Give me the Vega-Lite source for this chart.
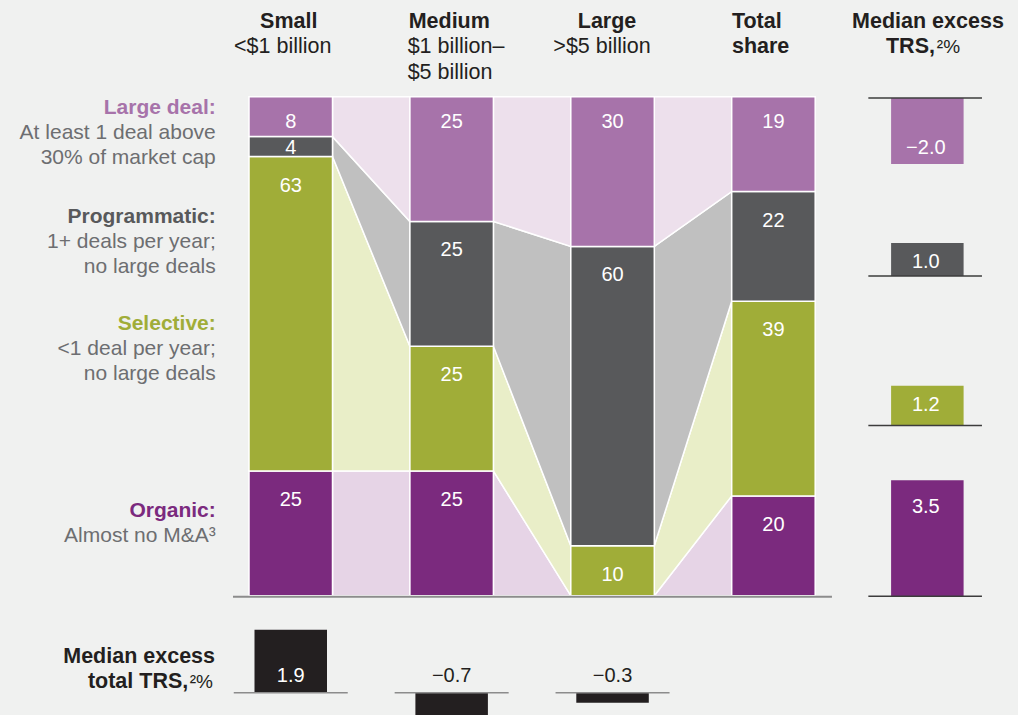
{
  "$schema": "https://vega.github.io/schema/vega-lite/v6.json",
  "width": 1018,
  "height": 715,
  "autosize": {"type": "fit", "contains": "padding"},
  "padding": 0,
  "background": "#f0f1f0",
  "config": {
    "view": {"stroke": null},
    "axis": {"disable": true},
    "legend": {"disable": true},
    "font": "Liberation Sans",
    "text": {"font": "Liberation Sans"}
  },
  "datasets": {
    "shares": [
      {"size": "Small", "type": "Organic", "share": 25},
      {"size": "Small", "type": "Selective", "share": 63},
      {"size": "Small", "type": "Programmatic", "share": 4},
      {"size": "Small", "type": "Large deal", "share": 8},
      {"size": "Medium", "type": "Organic", "share": 25},
      {"size": "Medium", "type": "Selective", "share": 25},
      {"size": "Medium", "type": "Programmatic", "share": 25},
      {"size": "Medium", "type": "Large deal", "share": 25},
      {"size": "Large", "type": "Organic", "share": 0},
      {"size": "Large", "type": "Selective", "share": 10},
      {"size": "Large", "type": "Programmatic", "share": 60},
      {"size": "Large", "type": "Large deal", "share": 30},
      {"size": "Total", "type": "Organic", "share": 20},
      {"size": "Total", "type": "Selective", "share": 39},
      {"size": "Total", "type": "Programmatic", "share": 22},
      {"size": "Total", "type": "Large deal", "share": 19}
    ],
    "trs": [
      {"type": "Large deal", "excess": -2.0},
      {"type": "Programmatic", "excess": 1.0},
      {"type": "Selective", "excess": 1.2},
      {"type": "Organic", "excess": 3.5}
    ],
    "sizeTrs": [
      {"col": "Small", "excess": 1.9},
      {"col": "Medium", "excess": -0.7},
      {"col": "Large", "excess": -0.3}
    ],
    "headers": [
      {"col": "Small", "title": "Small", "sub": ["<$1 billion"]},
      {"col": "Medium", "title": "Medium", "sub": ["$1 billion–", "$5 billion"]},
      {"col": "Large", "title": "Large", "sub": [">$5 billion"]},
      {"col": "Total", "title": ["Total", "share"], "sub": []}
    ],
    "panelTitles": [
      {"panel": "trs", "l1": "Median excess", "l2": "TRS,", "note": "²%"},
      {"panel": "size", "l1": "Median excess", "l2": "total TRS,", "note": "²%"}
    ],
    "labels": [
      {"type": "Large deal", "title": "Large deal:", "desc": ["At least 1 deal above", "30% of market cap"]},
      {"type": "Programmatic", "title": "Programmatic:", "desc": ["1+ deals per year;", "no large deals"]},
      {"type": "Selective", "title": "Selective:", "desc": ["<1 deal per year;", "no large deals"]},
      {"type": "Organic", "title": "Organic:", "desc": ["Almost no M&A³"]}
    ]
  },
  "layer": [
    {
      "data": {"name": "shares"},
      "transform": [{"stack": "share", "groupby": ["size"], "as": ["y0", "y1"]}],
      "layer": [
        {
          "transform": [{"filter": {"field": "size", "oneOf": ["Small", "Medium"]}}],
          "mark": {"type": "area", "stroke": "#ffffff", "strokeWidth": 1.5},
          "encoding": {
            "x": {"field": "size", "type": "ordinal", "sort": ["Small", "Medium"],
                  "scale": {"type": "point", "domain": ["Small", "Medium"], "range": [332.5, 409.9], "padding": 0}},
            "y": {"field": "y1", "type": "quantitative", "scale": {"domain": [0, 100], "range": [595.7, 96.7]}},
            "y2": {"field": "y0"},
            "fill": {"field": "type", "type": "nominal",
                     "scale": {"domain": ["Large deal", "Programmatic", "Selective", "Organic"], "range": ["#ede0ec", "#c0c0c0", "#e9eec8", "#e6d4e6"]},
                     "legend": null}
          }
        },
        {
          "transform": [{"filter": {"field": "size", "oneOf": ["Medium", "Large"]}}],
          "mark": {"type": "area", "stroke": "#ffffff", "strokeWidth": 1.5},
          "encoding": {
            "x": {"field": "size", "type": "ordinal", "sort": ["Medium", "Large"],
                  "scale": {"type": "point", "domain": ["Medium", "Large"], "range": [493.4, 570.8], "padding": 0}},
            "y": {"field": "y1", "type": "quantitative"},
            "y2": {"field": "y0"},
            "fill": {"field": "type", "type": "nominal", "legend": null}
          }
        },
        {
          "transform": [{"filter": {"field": "size", "oneOf": ["Large", "Total"]}}],
          "mark": {"type": "area", "stroke": "#ffffff", "strokeWidth": 1.5},
          "encoding": {
            "x": {"field": "size", "type": "ordinal", "sort": ["Large", "Total"],
                  "scale": {"type": "point", "domain": ["Large", "Total"], "range": [654.3, 731.7], "padding": 0}},
            "y": {"field": "y1", "type": "quantitative"},
            "y2": {"field": "y0"},
            "fill": {"field": "type", "type": "nominal", "legend": null}
          }
        }
      ],
      "resolve": {"scale": {"x": "independent"}}
    },
    {
      "layer": [
        {
          "layer": [
            {
              "data": {"name": "shares"},
              "transform": [{"stack": "share", "groupby": ["size"], "as": ["y0", "y1"]}],
              "layer": [
                {
                  "transform": [{"filter": "datum.share > 0"}],
                  "mark": {"type": "bar", "width": 83.5, "stroke": "#ffffff", "strokeWidth": 1.5},
                  "encoding": {
                    "x": {"field": "size", "type": "nominal",
                          "scale": {"type": "point", "domain": ["Small", "Medium", "Large", "Total", "TRS"], "range": [290.75, 934.35], "padding": 0}},
                    "y": {"field": "y1", "type": "quantitative", "scale": {"domain": [0, 100], "range": [595.7, 96.7]}},
                    "y2": {"field": "y0"},
                    "color": {"field": "type", "type": "nominal",
                              "scale": {"domain": ["Large deal", "Programmatic", "Selective", "Organic"], "range": ["#a773aa", "#58595b", "#a0ad38", "#7b2a7e"]},
                              "legend": null}
                  }
                },
                {
                  "transform": [{"filter": "datum.type === 'Large deal'"}],
                  "mark": {"type": "text", "fill": "#ffffff", "fontSize": 20, "baseline": "alphabetic", "dy": 31},
                  "encoding": {
                    "x": {"field": "size", "type": "nominal"},
                    "y": {"field": "y1", "type": "quantitative"},
                    "text": {"field": "share", "type": "quantitative"}
                  }
                },
                {
                  "transform": [{"filter": "datum.type !== 'Large deal' && datum.share >= 5"}],
                  "mark": {"type": "text", "fill": "#ffffff", "fontSize": 20, "baseline": "alphabetic", "dy": 35},
                  "encoding": {
                    "x": {"field": "size", "type": "nominal"},
                    "y": {"field": "y1", "type": "quantitative"},
                    "text": {"field": "share", "type": "quantitative"}
                  }
                },
                {
                  "transform": [{"filter": "datum.share > 0 && datum.share < 5"}],
                  "mark": {"type": "text", "fill": "#ffffff", "fontSize": 20, "baseline": "alphabetic", "dy": 17},
                  "encoding": {
                    "x": {"field": "size", "type": "nominal"},
                    "y": {"field": "y1", "type": "quantitative"},
                    "text": {"field": "share", "type": "quantitative"}
                  }
                },
                {
                  "mark": {"type": "rule", "stroke": "#8c8c8c", "strokeWidth": 2, "xOffset": -57.75, "x2Offset": 58.5, "yOffset": 1},
                  "encoding": {
                    "x": {"datum": "Small"},
                    "x2": {"datum": "Total"},
                    "y": {"aggregate": "min", "field": "y0", "type": "quantitative"}
                  }
                }
              ]
            },
            {
              "data": {"name": "headers"},
              "transform": [{"filter": "datum.col === 'Small'"}],
              "encoding": {"x": {"field": "col", "type": "nominal"}, "y": {"datum": 100, "type": "quantitative"}},
              "layer": [
                {"mark": {"type": "text", "fontWeight": "bold", "fontSize": 21.5, "fill": "#231f20", "align": "center", "baseline": "alphabetic", "dx": -2, "dy": -69, "lineHeight": 25.5},
                 "encoding": {"text": {"field": "title"}}},
                {"mark": {"type": "text", "fontSize": 21.5, "fill": "#231f20", "align": "center", "baseline": "alphabetic", "dx": -8, "dy": -43.4, "lineHeight": 25.5},
                 "encoding": {"text": {"field": "sub"}}}
              ]
            },
            {
              "data": {"name": "headers"},
              "transform": [{"filter": "datum.col === 'Medium'"}],
              "encoding": {"x": {"field": "col", "type": "nominal"}, "y": {"datum": 100, "type": "quantitative"}},
              "layer": [
                {"mark": {"type": "text", "fontWeight": "bold", "fontSize": 21.5, "fill": "#231f20", "align": "left", "baseline": "alphabetic", "dx": -43, "dy": -69, "lineHeight": 25.5},
                 "encoding": {"text": {"field": "title"}}},
                {"mark": {"type": "text", "fontSize": 21.5, "fill": "#231f20", "align": "left", "baseline": "alphabetic", "dx": -44, "dy": -43.4, "lineHeight": 25.5},
                 "encoding": {"text": {"field": "sub"}}}
              ]
            },
            {
              "data": {"name": "headers"},
              "transform": [{"filter": "datum.col === 'Large'"}],
              "encoding": {"x": {"field": "col", "type": "nominal"}, "y": {"datum": 100, "type": "quantitative"}},
              "layer": [
                {"mark": {"type": "text", "fontWeight": "bold", "fontSize": 21.5, "fill": "#231f20", "align": "center", "baseline": "alphabetic", "dx": -5.5, "dy": -69, "lineHeight": 25.5},
                 "encoding": {"text": {"field": "title"}}},
                {"mark": {"type": "text", "fontSize": 21.5, "fill": "#231f20", "align": "center", "baseline": "alphabetic", "dx": -10.5, "dy": -43.4, "lineHeight": 25.5},
                 "encoding": {"text": {"field": "sub"}}}
              ]
            },
            {
              "data": {"name": "headers"},
              "transform": [{"filter": "datum.col === 'Total'"}],
              "encoding": {"x": {"field": "col", "type": "nominal"}, "y": {"datum": 100, "type": "quantitative"}},
              "layer": [
                {"mark": {"type": "text", "fontWeight": "bold", "fontSize": 21.5, "fill": "#231f20", "align": "left", "baseline": "alphabetic", "dx": -41.5, "dy": -69, "lineHeight": 25.5},
                 "encoding": {"text": {"field": "title"}}}
              ]
            },
            {
              "data": {"name": "panelTitles"},
              "transform": [{"filter": "datum.panel === 'trs'"}],
              "encoding": {"x": {"datum": "TRS"}, "y": {"datum": 100, "type": "quantitative"}},
              "layer": [
                {"mark": {"type": "text", "fontWeight": "bold", "fontSize": 21.5, "fill": "#231f20", "align": "center", "baseline": "alphabetic", "dx": -6.4, "dy": -69},
                 "encoding": {"text": {"field": "l1"}}},
                {"mark": {"type": "text", "fontWeight": "bold", "fontSize": 21.5, "fill": "#231f20", "align": "right", "baseline": "alphabetic", "dx": 0.6, "dy": -43.4},
                 "encoding": {"text": {"field": "l2"}}},
                {"mark": {"type": "text", "fontSize": 19, "fill": "#231f20", "align": "left", "baseline": "alphabetic", "dx": 2.5, "dy": -43.4},
                 "encoding": {"text": {"field": "note"}}}
              ]
            },
            {
              "data": {"name": "labels"},
              "transform": [{"filter": "datum.type === 'Large deal'"}],
              "encoding": {"x": {"datum": "Small"}, "y": {"datum": 96.5, "type": "quantitative"}},
              "layer": [
                {"mark": {"type": "text", "fontWeight": "bold", "fontSize": 21, "align": "right", "baseline": "alphabetic", "dx": -75},
                 "encoding": {"text": {"field": "title"},
                              "color": {"field": "type", "type": "nominal", "legend": null}}},
                {"mark": {"type": "text", "fontSize": 21, "fill": "#6d6e71", "align": "right", "baseline": "alphabetic", "dx": -75, "dy": 25, "lineHeight": 25},
                 "encoding": {"text": {"field": "desc"}}}
              ]
            },
            {
              "data": {"name": "labels"},
              "transform": [{"filter": "datum.type === 'Programmatic'"}],
              "encoding": {"x": {"datum": "Small"}, "y": {"datum": 74.7, "type": "quantitative"}},
              "layer": [
                {"mark": {"type": "text", "fontWeight": "bold", "fontSize": 21, "align": "right", "baseline": "alphabetic", "dx": -75},
                 "encoding": {"text": {"field": "title"},
                              "color": {"field": "type", "type": "nominal", "legend": null}}},
                {"mark": {"type": "text", "fontSize": 21, "fill": "#6d6e71", "align": "right", "baseline": "alphabetic", "dx": -75, "dy": 25, "lineHeight": 25},
                 "encoding": {"text": {"field": "desc"}}}
              ]
            },
            {
              "data": {"name": "labels"},
              "transform": [{"filter": "datum.type === 'Selective'"}],
              "encoding": {"x": {"datum": "Small"}, "y": {"datum": 53.3, "type": "quantitative"}},
              "layer": [
                {"mark": {"type": "text", "fontWeight": "bold", "fontSize": 21, "align": "right", "baseline": "alphabetic", "dx": -75},
                 "encoding": {"text": {"field": "title"},
                              "color": {"field": "type", "type": "nominal", "legend": null}}},
                {"mark": {"type": "text", "fontSize": 21, "fill": "#6d6e71", "align": "right", "baseline": "alphabetic", "dx": -75, "dy": 25, "lineHeight": 25},
                 "encoding": {"text": {"field": "desc"}}}
              ]
            },
            {
              "data": {"name": "labels"},
              "transform": [{"filter": "datum.type === 'Organic'"}],
              "encoding": {"x": {"datum": "Small"}, "y": {"datum": 15.8, "type": "quantitative"}},
              "layer": [
                {"mark": {"type": "text", "fontWeight": "bold", "fontSize": 21, "align": "right", "baseline": "alphabetic", "dx": -75},
                 "encoding": {"text": {"field": "title"},
                              "color": {"field": "type", "type": "nominal", "legend": null}}},
                {"mark": {"type": "text", "fontSize": 21, "fill": "#6d6e71", "align": "right", "baseline": "alphabetic", "dx": -75, "dy": 25, "lineHeight": 25},
                 "encoding": {"text": {"field": "desc"}}}
              ]
            }
          ]
        },
        {
          "data": {"name": "trs"},
          "transform": [{"filter": "datum.type === 'Large deal'"}],
          "encoding": {"x": {"datum": "TRS"}, "y": {"field": "excess", "type": "quantitative", "scale": {"domain": [0, 1], "range": [97.9, 64.8]}}},
          "layer": [
            {"mark": {"type": "bar", "width": 72.5, "xOffset": -7},
             "encoding": {"y2": {"datum": 0}, "color": {"field": "type", "type": "nominal", "legend": null}}},
            {"mark": {"type": "rule", "stroke": "#3c3c3c", "strokeWidth": 1.5, "xOffset": -66, "x2Offset": 47.6},
             "encoding": {"x2": {"datum": "TRS"}, "y": {"datum": 0, "type": "quantitative"}}},
            {"mark": {"type": "text", "fill": "#ffffff", "fontSize": 20, "baseline": "alphabetic", "dx": -8.5, "dy": -10.4},
             "encoding": {"text": {"field": "excess", "type": "quantitative", "format": ".1f"}}}
          ]
        },
        {
          "data": {"name": "trs"},
          "transform": [{"filter": "datum.type === 'Programmatic'"}],
          "encoding": {"x": {"datum": "TRS"}, "y": {"field": "excess", "type": "quantitative", "scale": {"domain": [0, 1], "range": [276, 242.9]}}},
          "layer": [
            {"mark": {"type": "bar", "width": 72.5, "xOffset": -7},
             "encoding": {"y2": {"datum": 0}, "color": {"field": "type", "type": "nominal", "legend": null}}},
            {"mark": {"type": "rule", "stroke": "#3c3c3c", "strokeWidth": 1.5, "xOffset": -66, "x2Offset": 47.6},
             "encoding": {"x2": {"datum": "TRS"}, "y": {"datum": 0, "type": "quantitative"}}},
            {"mark": {"type": "text", "fill": "#ffffff", "fontSize": 20, "baseline": "alphabetic", "dx": -8.5, "dy": 24.7},
             "encoding": {"text": {"field": "excess", "type": "quantitative", "format": ".1f"}}}
          ]
        },
        {
          "data": {"name": "trs"},
          "transform": [{"filter": "datum.type === 'Selective'"}],
          "encoding": {"x": {"datum": "TRS"}, "y": {"field": "excess", "type": "quantitative", "scale": {"domain": [0, 1], "range": [425.5, 392.4]}}},
          "layer": [
            {"mark": {"type": "bar", "width": 72.5, "xOffset": -7},
             "encoding": {"y2": {"datum": 0}, "color": {"field": "type", "type": "nominal", "legend": null}}},
            {"mark": {"type": "rule", "stroke": "#3c3c3c", "strokeWidth": 1.5, "xOffset": -66, "x2Offset": 47.6},
             "encoding": {"x2": {"datum": "TRS"}, "y": {"datum": 0, "type": "quantitative"}}},
            {"mark": {"type": "text", "fill": "#ffffff", "fontSize": 20, "baseline": "alphabetic", "dx": -8.5, "dy": 24.8},
             "encoding": {"text": {"field": "excess", "type": "quantitative", "format": ".1f"}}}
          ]
        },
        {
          "data": {"name": "trs"},
          "transform": [{"filter": "datum.type === 'Organic'"}],
          "encoding": {"x": {"datum": "TRS"}, "y": {"field": "excess", "type": "quantitative", "scale": {"domain": [0, 1], "range": [596.2, 563.1]}}},
          "layer": [
            {"mark": {"type": "bar", "width": 72.5, "xOffset": -7},
             "encoding": {"y2": {"datum": 0}, "color": {"field": "type", "type": "nominal", "legend": null}}},
            {"mark": {"type": "rule", "stroke": "#3c3c3c", "strokeWidth": 1.5, "xOffset": -66, "x2Offset": 47.6},
             "encoding": {"x2": {"datum": "TRS"}, "y": {"datum": 0, "type": "quantitative"}}},
            {"mark": {"type": "text", "fill": "#ffffff", "fontSize": 20, "baseline": "alphabetic", "dx": -8.5, "dy": 32.4},
             "encoding": {"text": {"field": "excess", "type": "quantitative", "format": ".1f"}}}
          ]
        },
        {
          "layer": [
            {
              "data": {"name": "sizeTrs"},
              "encoding": {"x": {"field": "col", "type": "nominal"}, "y": {"field": "excess", "type": "quantitative", "scale": {"domain": [0, 1], "range": [692.7, 659.6]}}},
              "layer": [
                {"mark": {"type": "bar", "width": 72.5, "fill": "#231f20"},
                 "encoding": {"y2": {"datum": 0}}},
                {"mark": {"type": "rule", "stroke": "#8c8c8c", "strokeWidth": 1.5, "xOffset": -57, "x2Offset": 57},
                 "encoding": {"x2": {"field": "col"}, "y": {"datum": 0, "type": "quantitative"}}},
                {"mark": {"type": "text", "fontSize": 20, "baseline": "alphabetic", "dy": -11},
                 "encoding": {"y": {"datum": 0, "type": "quantitative"},
                              "text": {"field": "excess", "type": "quantitative", "format": ".1f"},
                              "color": {"condition": {"test": "datum.excess > 0", "value": "#ffffff"}, "value": "#231f20"}}}
              ]
            },
            {
              "data": {"name": "panelTitles"},
              "transform": [{"filter": "datum.panel === 'size'"}],
              "encoding": {"x": {"datum": "Small"}, "y": {"datum": 0, "type": "quantitative"}},
              "layer": [
                {"mark": {"type": "text", "fontWeight": "bold", "fontSize": 21.5, "fill": "#231f20", "align": "right", "baseline": "alphabetic", "dx": -75.75, "dy": -29.4},
                 "encoding": {"text": {"field": "l1"}}},
                {"mark": {"type": "text", "fontWeight": "bold", "fontSize": 21.5, "fill": "#231f20", "align": "right", "baseline": "alphabetic", "dx": -102.5, "dy": -4.4},
                 "encoding": {"text": {"field": "l2"}}},
                {"mark": {"type": "text", "fontSize": 19, "fill": "#231f20", "align": "left", "baseline": "alphabetic", "dx": -101, "dy": -4.4},
                 "encoding": {"text": {"field": "note"}}}
              ]
            }
          ]
        }
      ],
      "resolve": {"scale": {"y": "independent"}}
    }
  ],
  "resolve": {"scale": {"x": "independent", "y": "independent"}}
}
